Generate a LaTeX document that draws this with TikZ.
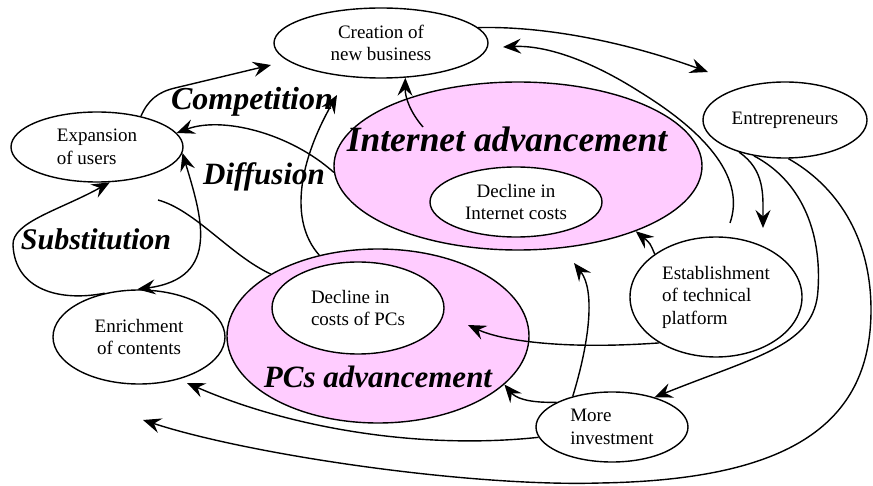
\documentclass[tikz,border=0pt]{standalone}
\usepackage{fontspec}
\setmainfont{Liberation Serif}
\usetikzlibrary{shapes.geometric, arrows.meta, calc}
\definecolor{pinkfill}{RGB}{255,204,255}
\tikzset{
->, % every connector is directed
>={Stealth[length=18pt, width=15pt, inset=6.5pt]}, % heavy barbed heads
factor/.style={ellipse, draw, fill=white, inner sep=0pt, align=center, font=\fontsize{19}{22.5}\selectfont}, % the white ovals
advance/.style={ellipse, draw, fill=pinkfill, inner sep=0pt}, % the two big pink ovals
theme/.style={anchor=base, font=\fontsize{31}{36}\selectfont\bfseries\itshape}, % bold italic words
}

\begin{document}
\begin{tikzpicture}[x=1pt, y=1pt, line width=1.4pt]
\useasboundingbox (0,0) rectangle (873,-486);

% technology side
\node[advance, minimum width=368pt, minimum height=168pt] (inet) at (518,-166) {};
\node[factor, minimum width=172pt, minimum height=70pt] (inetcost) at (516,-202) {Decline in\\Internet costs};
\node[advance, minimum width=302pt, minimum height=174pt] (pcs) at (378,-336) {};
\node[factor, align=left, minimum width=172pt, minimum height=92pt] (pccost) at (358,-308) {Decline in\\costs of PCs};
\node[theme, font=\fontsize{35.5}{40}\selectfont\bfseries\itshape] (inetname) at (507,-152) {Internet advancement};
\node[theme, font=\fontsize{31}{36}\selectfont\bfseries\itshape] (pcsname) at (378,-388) {PCs advancement};

% market side
\node[factor, minimum width=214pt, minimum height=70pt] (creation) at (381,-43) {Creation of\\new business};
\node[factor, minimum width=164pt, minimum height=76pt] (entre) at (785,-120) {Entrepreneurs};
\node[factor, align=left, minimum width=172pt, minimum height=70pt] (users) at (97,-147) {Expansion\\of users};
\node[factor, minimum width=172pt, minimum height=94pt] (contents) at (139,-337) {Enrichment\\of contents};
\node[factor, align=left, minimum width=172pt, minimum height=120pt] (platform) at (716,-297) {Establishment\\of technical\\platform};
\node[factor, align=left, minimum width=152pt, minimum height=70pt] (invest) at (612,-427) {More\\investment};

% loose ends of the connectors
\coordinate (u2c) at (271,-65);
\coordinate (pctip) at (337,-95);
\coordinate (pcfree) at (158,-200);
\coordinate (c2e) at (708,-72);
\coordinate (pfree) at (730,-223);
\coordinate (p2c) at (503,-47);
\coordinate (e2p) at (763,-228);
\coordinate (loopend) at (143,-420);
\coordinate (ctip) at (187,-383);
\coordinate (pltip) at (468,-325);
\coordinate (invtip) at (574,-263);

% left half
\draw (users.35) .. controls (148,-100) and (158,-92) .. (175,-88) -- (u2c);
\draw ($(inet.center)+(-95,39)$) .. controls (410,-112) and (405,-97) .. (creation.305);
\draw (inet.182) .. controls (290,-133) and (222,-116) .. (users.10);
\draw (pcs.126) .. controls (288,-220) and (300,-160) .. (pctip);
\draw[<->] (users.356) .. controls (201,-215) and (222,-278) .. (contents.92);
\draw[-] (pcs.150) .. controls (230,-255) and (195,-210) .. (pcfree);
\draw (contents.128) .. controls (60,-302) and (15,-290) .. (13,-245)
      .. controls (12,-222) and (60,-210) .. (users.290);

% right half
\draw (creation.9) .. controls (540,-26) and (620,-40) .. (c2e);
\draw (pfree) .. controls (745,-180) and (710,-135) .. (640,-92)
      .. controls (590,-60) and (545,-45) .. (p2c);
\draw (entre.215) .. controls (765,-170) and (763,-195) .. (e2p);
\draw (entre.229) .. controls (800,-180) and (822,-230) .. (818,-290)
      .. controls (815,-345) and (760,-355) .. (invest.35);
\draw (entre.275) .. controls (835,-185) and (871,-235) .. (871,-310)
      .. controls (871,-430) and (780,-480) .. (600,-483)
      .. controls (470,-487) and (250,-455) .. (loopend);
\draw (invest.188) .. controls (420,-450) and (290,-428) .. (ctip);
\draw (platform.219) .. controls (560,-350) and (500,-340) .. (pltip);
\draw (platform.145) .. controls (650,-243) .. (inet.331);
\draw (invest.142) .. controls (590,-340) and (595,-290) .. (invtip);
\draw (invest.156) .. controls (525,-403) and (515,-397) .. (pcs.339);

% names of the effects
\node[theme, font=\fontsize{32}{36}\selectfont\bfseries\itshape] (competition) at (252,-110) {Competition};
\node[theme] (diffusion) at (264,-185) {Diffusion};
\node[theme, font=\fontsize{30}{36}\selectfont\bfseries\itshape] (substitution) at (96,-250) {Substitution};
\end{tikzpicture}
\end{document}
